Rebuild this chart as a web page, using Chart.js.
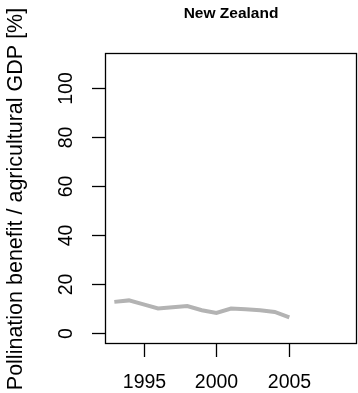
<!DOCTYPE html>
<html>
<head>
<meta charset="utf-8">
<script src="https://cdn.jsdelivr.net/npm/chart.js@4.4.1/dist/chart.umd.min.js"></script>
<style>
  html, body { margin: 0; padding: 0; background: #fff; }
  #wrap { width: 358px; height: 393px; }
</style>
</head>
<body>
<div id="wrap"><canvas id="myChart" width="358" height="393"></canvas></div>
<script>
// data
const years = [1993, 1994, 1995, 1996, 1997, 1998, 1999, 2000, 2001, 2002, 2003, 2004, 2005];
const benefit = [12.8, 13.4, 11.8, 10.1, 10.6, 11.1, 9.4, 8.3, 10.1, 9.8, 9.4, 8.7, 6.5];
const xTicks = [1995, 2000, 2005];
const yTicks = [0, 20, 40, 60, 80, 100];
const title = 'New Zealand';
const yTitle = 'Pollination benefit / agricultural GDP [%]';

const FONT = '"Liberation Sans", Arial, Helvetica, sans-serif';

// R style box, ticks and labels
const rAxes = {
  id: 'rAxes',
  afterDraw(c) {
    const ctx = c.ctx;
    const a = c.chartArea;
    const xs = c.scales.x, ys = c.scales.y;
    ctx.save();
    ctx.strokeStyle = '#000';
    ctx.lineWidth = 1.3;
    ctx.strokeRect(a.left + 0.5, a.top + 0.5, a.right - a.left - 1, a.bottom - a.top - 1);

    ctx.fillStyle = '#000';
    ctx.font = '19.5px ' + FONT;
    // x ticks
    ctx.textAlign = 'center';
    ctx.textBaseline = 'middle';
    xTicks.forEach(v => {
      const px = Math.round(xs.getPixelForValue(v)) + 0.5;
      ctx.beginPath();
      ctx.moveTo(px, a.bottom);
      ctx.lineTo(px, a.bottom + 13);
      ctx.stroke();
      ctx.fillText(String(v), px, a.bottom + 39);
    });
    // y ticks (rotated labels)
    yTicks.forEach(v => {
      const py = Math.round(ys.getPixelForValue(v)) + 0.5;
      ctx.beginPath();
      ctx.moveTo(a.left, py);
      ctx.lineTo(a.left - 13, py);
      ctx.stroke();
      ctx.save();
      ctx.translate(a.left - 38, py);
      ctx.rotate(-Math.PI / 2);
      ctx.fillText(String(v), 0, 0);
      ctx.restore();
    });
    // y title
    ctx.font = '21.5px ' + FONT;
    ctx.save();
    ctx.translate(16, 199);
    ctx.rotate(-Math.PI / 2);
    ctx.fillText(yTitle, 0, 0);
    ctx.restore();
    // main title
    ctx.font = 'bold 15.5px ' + FONT;
    ctx.fillText(title, (a.left + a.right) / 2, 14);
    ctx.restore();
  }
};

const ctx = document.getElementById('myChart');
new Chart(ctx, {
  type: 'line',
  data: {
    datasets: [{
      data: years.map((y, i) => ({ x: y, y: benefit[i] })),
      borderColor: '#b3b3b3',
      borderWidth: 4,
      pointRadius: 0,
      tension: 0,
      fill: false
    }]
  },
  options: {
    responsive: false,
    animation: false,
    events: [],
    layout: { padding: { left: 105, top: 53, right: 1, bottom: 49 } },
    plugins: { legend: { display: false }, title: { display: false }, tooltip: { enabled: false } },
    scales: {
      x: { type: 'linear', min: 1992.36, max: 2009.64, display: false },
      y: { type: 'linear', min: -4.4, max: 114.4, display: false }
    }
  },
  plugins: [rAxes]
});
</script>
</body>
</html>
